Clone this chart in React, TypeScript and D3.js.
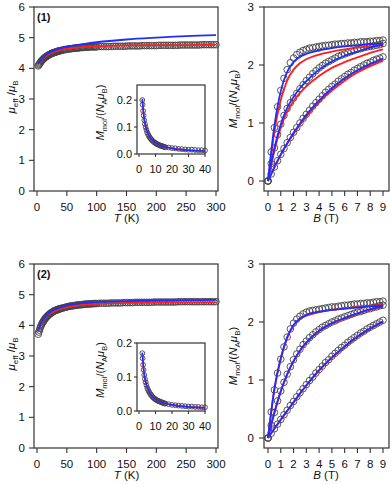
import React from 'react';
import * as d3 from 'd3';

// ---------- data ----------
const T_MAIN = [2,3,4,5,6,7,8,9,10,11,12,13,14,15,16,17,18,19,20,21,
 22,23,24,25,26,27,28,29,30,31,32,33,34,35,36,37,38,39,40,
 42,44,46,48,50,52,54,56,58,60,62,64,66,68,70,72,74,76,78,80,
 82,84,86,88,90,92,94,96,98,100,
 104,108,112,116,120,124,128,132,136,140,144,148,152,156,160,164,168,172,176,180,
 184,188,192,196,200,204,208,212,216,220,224,228,232,236,240,244,248,252,256,260,
 264,268,272,276,280,284,288,292,296,300];
const MU1 = [4.08,4.11,4.14,4.17,4.20,4.23,4.25,4.27,4.29,4.31,4.33,4.35,4.36,4.38,4.39,4.40,4.41,4.43,4.44,4.45,
 4.46,4.47,4.48,4.49,4.50,4.50,4.51,4.52,4.52,4.53,4.54,4.54,4.55,4.56,4.56,4.57,4.57,4.58,4.58,
 4.59,4.60,4.61,4.61,4.62,4.63,4.63,4.64,4.64,4.65,4.65,4.66,4.66,4.66,4.67,4.67,4.68,4.68,4.68,4.69,
 4.69,4.69,4.69,4.70,4.70,4.70,4.70,4.70,4.70,4.70,
 4.71,4.71,4.71,4.71,4.71,4.71,4.72,4.72,4.72,4.72,4.72,4.72,4.73,4.73,4.73,4.73,4.73,4.73,4.74,4.74,
 4.74,4.74,4.74,4.74,4.74,4.75,4.75,4.75,4.75,4.75,4.75,4.75,4.75,4.75,4.76,4.76,4.76,4.76,4.76,4.76,
 4.76,4.76,4.76,4.77,4.77,4.77,4.77,4.77,4.77,4.77];
const MU2 = [3.71,3.78,3.84,3.90,3.95,4.00,4.04,4.08,4.11,4.14,4.17,4.20,4.23,4.25,4.27,4.29,4.31,4.33,4.35,4.37,
 4.38,4.39,4.41,4.42,4.43,4.45,4.46,4.47,4.48,4.49,4.49,4.50,4.51,4.52,4.52,4.53,4.54,4.54,4.55,
 4.56,4.57,4.58,4.59,4.60,4.61,4.62,4.63,4.63,4.64,4.64,4.65,4.66,4.66,4.67,4.67,4.67,4.68,4.68,4.69,
 4.69,4.69,4.70,4.70,4.70,4.70,4.71,4.71,4.71,4.71,
 4.72,4.72,4.72,4.72,4.72,4.73,4.73,4.73,4.73,4.73,4.74,4.74,4.74,4.74,4.74,4.75,4.75,4.75,4.75,4.75,
 4.75,4.75,4.75,4.76,4.76,4.76,4.76,4.76,4.76,4.76,4.76,4.76,4.76,4.77,4.77,4.77,4.77,4.77,4.77,4.77,
 4.77,4.77,4.77,4.77,4.77,4.77,4.77,4.77,4.77,4.77];
const FIT_T = [2,5,10,20,30,40,60,80,100,150,200,250,300];
const MU1_RED = [4.14,4.22,4.32,4.46,4.54,4.60,4.66,4.70,4.72,4.75,4.76,4.76,4.77];
const MU1_BLUE = [4.16,4.24,4.35,4.50,4.59,4.66,4.74,4.80,4.85,4.94,5.00,5.05,5.08];
const MU2_RED = [3.80,3.95,4.14,4.36,4.47,4.54,4.63,4.68,4.70,4.73,4.74,4.75,4.75];
const MU2_BLUE = [3.83,3.98,4.17,4.40,4.52,4.59,4.68,4.73,4.76,4.79,4.81,4.82,4.83];

const INSET_T = [2,2.2,2.5,2.8,3.2,3.6,4,4.5,5,5.5,
 6,6.5,7,7.5,8,8.5,9,9.5,10,10.5,
 11,11.5,12,12.5,13,13.5,14,14.5,15,15.5,
 16,18,20,22,24,26,28,30,32,34,
 36,38,40];
const INSET1_M = [0.200,0.183,0.160,0.143,0.125,0.111,0.100,0.089,0.080,0.073,
 0.067,0.062,0.057,0.054,0.050,0.047,0.045,0.042,0.040,0.038,
 0.037,0.035,0.034,0.032,0.031,0.030,0.029,0.028,0.027,0.026,
 0.025,0.024,0.022,0.021,0.019,0.018,0.017,0.016,0.016,0.015,
 0.014,0.014,0.013];
const INSET2_M = [0.170,0.155,0.136,0.121,0.106,0.094,0.085,0.076,0.068,0.062,
 0.057,0.053,0.049,0.046,0.043,0.040,0.038,0.036,0.034,0.033,
 0.031,0.030,0.029,0.028,0.027,0.026,0.025,0.024,0.023,0.022,
 0.022,0.020,0.018,0.017,0.016,0.015,0.014,0.013,0.013,0.012,
 0.012,0.011,0.011];
const FIT_TI = [2,3,4,6,8,10,14,20,30,40];
const INSET1_BLUE = [0.205,0.138,0.104,0.069,0.052,0.042,0.030,0.021,0.014,0.011];
const INSET1_RED = [0.200,0.135,0.102,0.068,0.051,0.041,0.030,0.021,0.014,0.011];
const INSET2_BLUE = [0.172,0.115,0.087,0.058,0.044,0.035,0.025,0.018,0.012,0.009];
const INSET2_RED = [0.168,0.113,0.085,0.057,0.043,0.035,0.025,0.018,0.012,0.009];

const B_GRID = [0,0.25,0.5,0.75,1,1.25,1.5,1.75,2,2.25,
 2.5,2.75,3,3.25,3.5,3.75,4,4.25,4.5,4.75,
 5,5.25,5.5,5.75,6,6.25,6.5,6.75,7,7.25,
 7.5,7.75,8,8.25,8.5,8.75,9];
const M1_A = [0,0.50,0.92,1.28,1.56,1.77,1.92,2.04,2.12,2.18,
 2.22,2.25,2.27,2.29,2.30,2.31,2.32,2.33,2.34,2.34,
 2.35,2.36,2.36,2.37,2.37,2.38,2.38,2.39,2.39,2.40,
 2.40,2.40,2.41,2.41,2.42,2.42,2.43];
const M1_B = [0,0.30,0.57,0.80,0.98,1.13,1.25,1.35,1.43,1.51,
 1.59,1.66,1.73,1.79,1.85,1.90,1.95,1.99,2.03,2.06,
 2.09,2.12,2.15,2.17,2.19,2.21,2.23,2.25,2.27,2.28,
 2.30,2.31,2.32,2.33,2.34,2.35,2.37];
const M1_C = [0,0.12,0.24,0.35,0.46,0.56,0.66,0.75,0.84,0.92,
 1.00,1.08,1.15,1.22,1.29,1.35,1.41,1.47,1.53,1.58,
 1.63,1.67,1.72,1.76,1.80,1.84,1.87,1.91,1.94,1.97,
 2.00,2.03,2.05,2.08,2.10,2.12,2.14];
const M2_A = [0,0.45,0.83,1.12,1.36,1.57,1.74,1.88,1.98,2.05,
 2.10,2.14,2.17,2.19,2.20,2.21,2.22,2.23,2.24,2.25,
 2.26,2.26,2.27,2.28,2.29,2.29,2.30,2.31,2.31,2.32,
 2.32,2.33,2.33,2.34,2.35,2.35,2.36];
const M2_B = [0,0.22,0.44,0.64,0.81,0.96,1.10,1.23,1.35,1.45,
 1.53,1.61,1.67,1.73,1.78,1.83,1.87,1.91,1.94,1.97,
 2.00,2.02,2.05,2.07,2.09,2.11,2.13,2.15,2.17,2.18,
 2.20,2.22,2.23,2.25,2.26,2.28,2.29];
const M2_C = [0,0.08,0.16,0.24,0.32,0.40,0.48,0.56,0.63,0.71,
 0.78,0.85,0.92,0.99,1.05,1.12,1.18,1.24,1.30,1.35,
 1.41,1.46,1.51,1.56,1.60,1.65,1.69,1.73,1.77,1.81,
 1.84,1.88,1.91,1.94,1.97,2.00,2.03];
const FIT_B = [0,0.5,1,1.5,2,2.5,3,4,5,6,7,8,9];
const M1_A_BLUE = [0,0.95,1.55,1.88,2.05,2.14,2.19,2.25,2.29,2.32,2.34,2.36,2.37];
const M1_A_RED = [0,0.85,1.40,1.73,1.92,2.03,2.10,2.18,2.23,2.27,2.30,2.32,2.34];
const M1_B_BLUE = [0,0.57,0.98,1.26,1.45,1.60,1.72,1.92,2.06,2.16,2.23,2.30,2.35];
const M1_B_RED = [0,0.52,0.92,1.19,1.38,1.52,1.63,1.81,1.95,2.05,2.13,2.21,2.27];
const M1_C_BLUE = [0,0.24,0.46,0.65,0.83,0.99,1.14,1.39,1.60,1.77,1.91,2.02,2.11];
const M1_C_RED = [0,0.23,0.45,0.64,0.81,0.97,1.11,1.36,1.56,1.73,1.87,1.98,2.07];
const M2_A_BLUE = [0,0.85,1.38,1.74,1.95,2.06,2.12,2.18,2.21,2.23,2.25,2.27,2.28];
const M2_A_RED = [0,0.83,1.36,1.72,1.94,2.05,2.11,2.17,2.21,2.23,2.26,2.28,2.29];
const M2_B_BLUE = [0,0.44,0.81,1.10,1.33,1.51,1.65,1.85,1.98,2.07,2.15,2.22,2.27];
const M2_B_RED = [0,0.43,0.80,1.09,1.32,1.50,1.64,1.84,1.97,2.06,2.14,2.21,2.26];
const M2_C_BLUE = [0,0.16,0.32,0.47,0.62,0.77,0.91,1.17,1.39,1.58,1.75,1.89,2.01];
const M2_C_RED = [0,0.16,0.31,0.46,0.61,0.76,0.90,1.16,1.38,1.57,1.74,1.88,2.00];

const X_TICKS_T = [0,50,100,150,200,250,300];
const Y_TICKS_MU = [0,1,2,3,4,5,6];
const X_TICKS_B = [0,1,2,3,4,5,6,7,8,9];
const Y_TICKS_M = [0,1,2,3];
const X_TICKS_IN = [0,10,20,30,40];
const Y_TICKS_IN = [0,0.1,0.2];

// ---------- style ----------
const FONT = '"Liberation Sans", Arial, Helvetica, sans-serif';
const BLUE = '#1f2eff';
const RED = '#ff1f1f';
const CIRC = '#444';
const AX = '#333';

const zip = (xs: number[], ys: number[]) => xs.map((x, i) => [x, ys[i]] as [number, number]);

type Sc = d3.ScaleLinear<number, number>;

function Axes({ f, xs, ys, xTicks, yTicks, yFmt, fs, tl, xLabDy, yLabDx }: any) {
  return (
    <g>
      <rect x={f.x0} y={f.y0} width={f.x1 - f.x0} height={f.y1 - f.y0} fill="white" stroke={AX} strokeWidth={1.2} />
      {xTicks.map((t: number) => (
        <g key={'x' + t}>
          <line x1={xs(t)} x2={xs(t)} y1={f.y1} y2={f.y1 + tl} stroke={AX} strokeWidth={1.1} />
          <text x={xs(t)} y={f.y1 + xLabDy} textAnchor="middle" fontSize={fs} fill="#111">{t}</text>
        </g>
      ))}
      {yTicks.map((t: number) => (
        <g key={'y' + t}>
          <line x1={f.x0 - tl} x2={f.x0} y1={ys(t)} y2={ys(t)} stroke={AX} strokeWidth={1.1} />
          <text x={f.x0 - yLabDx} y={ys(t) + fs * 0.36} textAnchor="end" fontSize={fs} fill="#111">{yFmt ? yFmt(t) : t}</text>
        </g>
      ))}
    </g>
  );
}

function Circles({ xs, ys, X, Y, r }: { xs: Sc; ys: Sc; X: number[]; Y: number[]; r: number }) {
  return (
    <g>
      {zip(X, Y).map((d, i) => (
        <circle key={i} cx={xs(d[0])} cy={ys(d[1])} r={r} fill="none" stroke={CIRC} strokeWidth={0.9} />
      ))}
    </g>
  );
}

function Curve({ xs, ys, X, Y, color, w }: { xs: Sc; ys: Sc; X: number[]; Y: number[]; color: string; w: number }) {
  const line = d3.line<[number, number]>().x(d => xs(d[0])).y(d => ys(d[1])).curve(d3.curveMonotoneX);
  return <path d={line(zip(X, Y)) || ''} fill="none" stroke={color} strokeWidth={w} />;
}

function MuPanel({ dy, mu, red, blue, inset, iRed, iBlue, iTop, label }: any) {
  const f = { x0: 34, x1: 218, y0: 7 + dy, y1: 191 + dy };
  const xs = d3.scaleLinear().domain([0, 300]).range([37, 216]);
  const ys = d3.scaleLinear().domain([0, 6]).range([191 + dy, 7 + dy]);
  const fi = { x0: 137, x1: 205, y0: (iTop > 0.21 ? 85 : 86) + dy, y1: 154 + dy };
  const xi = d3.scaleLinear().domain([0, 40]).range([139, 205]);
  const yi = d3.scaleLinear().domain([0, iTop]).range([fi.y1, fi.y0]);
  const cy = 97 + dy;
  const icy = (fi.y0 + fi.y1) / 2 - 7;
  return (
    <g>
      <Axes f={f} xs={xs} ys={ys} xTicks={X_TICKS_T} yTicks={Y_TICKS_MU} fs={11.5} tl={5} xLabDy={20} yLabDx={9} />
      <Circles xs={xs} ys={ys} X={T_MAIN} Y={mu} r={3.3} />
      <Curve xs={xs} ys={ys} X={FIT_T} Y={red} color={RED} w={1.8} />
      <Curve xs={xs} ys={ys} X={FIT_T} Y={blue} color={BLUE} w={1.8} />
      <text x={37} y={21 + dy} fontSize={11} fontWeight="bold" fill="#111">{label}</text>
      <text x={(37 + 216) / 2} y={222 + dy} textAnchor="middle" fontSize={11.5} fill="#111">
        <tspan fontStyle="italic">T</tspan> (K)
      </text>
      <text transform={`translate(15,${cy}) rotate(-90)`} textAnchor="middle" fontSize={11.5} fill="#111">
        <tspan fontStyle="italic">μ</tspan>
        <tspan fontSize={8} dy={3}>eff</tspan>
        <tspan dy={-3}> /</tspan>
        <tspan fontStyle="italic">μ</tspan>
        <tspan fontSize={8} dy={3}>B</tspan>
      </text>
      <Axes f={fi} xs={xi} ys={yi} xTicks={X_TICKS_IN} yTicks={Y_TICKS_IN} yFmt={(v: number) => v.toFixed(1)} fs={11} tl={3} xLabDy={19} yLabDx={5} />
      <Circles xs={xi} ys={yi} X={INSET_T} Y={inset} r={2.4} />
      <Curve xs={xi} ys={yi} X={FIT_TI} Y={iRed} color={RED} w={1.6} />
      <Curve xs={xi} ys={yi} X={FIT_TI} Y={iBlue} color={BLUE} w={1.6} />
      <text transform={`translate(104,${icy}) rotate(-90)`} textAnchor="middle" fontSize={11} fill="#111">
        <tspan fontStyle="italic">M</tspan>
        <tspan fontSize={7.5} dy={3}>mol</tspan>
        <tspan dy={-3}>/(</tspan>
        <tspan fontStyle="italic">N</tspan>
        <tspan fontSize={7.5} dy={3}>A</tspan>
        <tspan dy={-3} fontStyle="italic">μ</tspan>
        <tspan fontSize={7.5} dy={3}>B</tspan>
        <tspan dy={-3}>)</tspan>
      </text>
    </g>
  );
}

function MPanel({ dy, data, fits }: any) {
  const f = { x0: 264, x1: 389, y0: 7 + dy, y1: 191 + dy };
  const xs = d3.scaleLinear().domain([0, 9]).range([268, 383]);
  const ys = d3.scaleLinear().domain([0, 3]).range([181 + dy, 7 + dy]);
  const cy = 99 + dy;
  return (
    <g>
      <Axes f={f} xs={xs} ys={ys} xTicks={X_TICKS_B} yTicks={Y_TICKS_M} fs={11.5} tl={5} xLabDy={20} yLabDx={10} />
      {data.map((m: number[], i: number) => (
        <Circles key={'c' + i} xs={xs} ys={ys} X={B_GRID} Y={m} r={3.3} />
      ))}
      {fits.map((p: number[][], i: number) => (
        <Curve key={'r' + i} xs={xs} ys={ys} X={FIT_B} Y={p[1]} color={RED} w={1.8} />
      ))}
      {fits.map((p: number[][], i: number) => (
        <Curve key={'b' + i} xs={xs} ys={ys} X={FIT_B} Y={p[0]} color={BLUE} w={1.8} />
      ))}
      <text x={326} y={222 + dy} textAnchor="middle" fontSize={11.5} fill="#111">
        <tspan fontStyle="italic">B</tspan> (T)
      </text>
      <text transform={`translate(237,${cy}) rotate(-90)`} textAnchor="middle" fontSize={11.5} fill="#111">
        <tspan fontStyle="italic">M</tspan>
        <tspan fontSize={8} dy={3}>mol</tspan>
        <tspan dy={-3}>/(</tspan>
        <tspan fontStyle="italic">N</tspan>
        <tspan fontSize={8} dy={3}>A</tspan>
        <tspan dy={-3} fontStyle="italic">μ</tspan>
        <tspan fontSize={8} dy={3}>B</tspan>
        <tspan dy={-3}>)</tspan>
      </text>
    </g>
  );
}

export default function App() {
  return (
    <svg width={392} height={484} style={{ position: 'absolute', left: 0, top: 0, background: 'white' }} fontFamily={FONT}>
      <MuPanel dy={0} mu={MU1} red={MU1_RED} blue={MU1_BLUE} inset={INSET1_M} iRed={INSET1_RED} iBlue={INSET1_BLUE} iTop={0.256} label="(1)" />
      <MPanel dy={0} data={[M1_A, M1_B, M1_C]} fits={[[M1_A_BLUE, M1_A_RED], [M1_B_BLUE, M1_B_RED], [M1_C_BLUE, M1_C_RED]]} />
      <MuPanel dy={257} mu={MU2} red={MU2_RED} blue={MU2_BLUE} inset={INSET2_M} iRed={INSET2_RED} iBlue={INSET2_BLUE} iTop={0.2} label="(2)" />
      <MPanel dy={257} data={[M2_A, M2_B, M2_C]} fits={[[M2_A_BLUE, M2_A_RED], [M2_B_BLUE, M2_B_RED], [M2_C_BLUE, M2_C_RED]]} />
    </svg>
  );
}
